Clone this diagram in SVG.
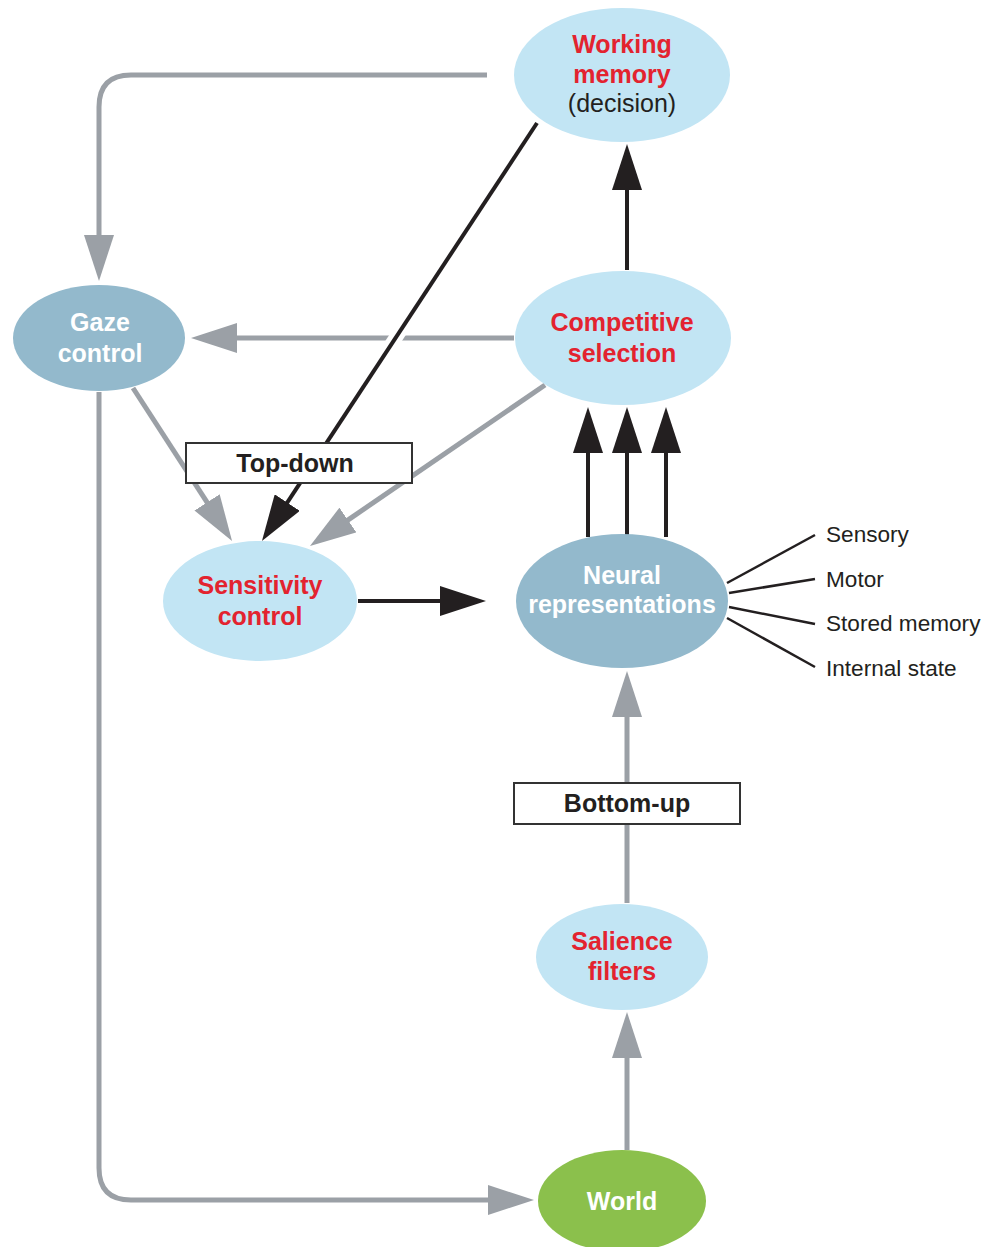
<svg xmlns="http://www.w3.org/2000/svg" width="986" height="1247" viewBox="0 0 986 1247">
<style>
.light{fill:#c2e5f4}
.dark{fill:#93b9cc}
.green{fill:#8bc04c}
.t{font-family:"Liberation Sans",Arial,sans-serif;font-size:25px;font-weight:bold;text-anchor:middle}
.red{fill:#e3232f}
.white{fill:#ffffff}
.ink{fill:#231f20}
.reg{font-weight:normal}
.side{font-family:"Liberation Sans",Arial,sans-serif;font-size:22.6px;fill:#231f20}
.g{fill:none;stroke:#9ba0a6;stroke-width:5}
.b{fill:none;stroke:#231f20;stroke-width:4}
.thin{fill:none;stroke:#231f20;stroke-width:2.5}
.box{fill:#ffffff;stroke:#333333;stroke-width:2}
</style>
<defs>
<marker id="ag" markerUnits="userSpaceOnUse" markerWidth="46" markerHeight="30" refX="1" refY="15" orient="auto" viewBox="0 0 46 30">
<path d="M0,0 L46,15 L0,30 z" fill="#9ba0a6"/>
</marker>
<marker id="ab" markerUnits="userSpaceOnUse" markerWidth="46" markerHeight="30" refX="1" refY="15" orient="auto" viewBox="0 0 46 30">
<path d="M0,0 L46,15 L0,30 z" fill="#231f20"/>
</marker>
</defs>
<rect width="986" height="1247" fill="#ffffff"/>
<g id="connectors">
<path class="g" d="M487,75 H131 Q99,75 99,107 V236" marker-end="url(#ag)"/>
<path class="g" d="M514,338 H236" marker-end="url(#ag)"/>
<path class="g" d="M99,392 V1168 Q99,1200 131,1200 H489" marker-end="url(#ag)"/>
<path class="g" d="M133,388 L207.6,503.2" marker-end="url(#ag)"/>
<path class="g" d="M545,385 L347.1,520.6" marker-end="url(#ag)"/>
<path class="g" d="M627,903 V716" marker-end="url(#ag)"/>
<path class="g" d="M627,1150 V1057" marker-end="url(#ag)"/>
<path d="M408.7,318 L382.4,358" fill="none" stroke="#ffffff" stroke-width="14"/>
<path class="b" d="M537,123 L286.7,503.4" marker-end="url(#ab)"/>
<path class="b" d="M627,270 V189" marker-end="url(#ab)"/>
<path class="b" d="M588,537 V452" marker-end="url(#ab)"/>
<path class="b" d="M627,537 V452" marker-end="url(#ab)"/>
<path class="b" d="M666,537 V452" marker-end="url(#ab)"/>
<path class="b" d="M358,601 H441" stroke-width="6" marker-end="url(#ab)"/>
<path class="thin" d="M727,583 L815,535"/>
<path class="thin" d="M729,593 L815,579"/>
<path class="thin" d="M729,607 L815,624"/>
<path class="thin" d="M727,618 L815,667"/>
</g>
<g id="label-topdown">
<rect class="box" x="186" y="443" width="226" height="40"/>
<text class="t ink" x="295" y="472">Top-down</text>
</g>
<g id="label-bottomup">
<rect class="box" x="514" y="783" width="226" height="41"/>
<text class="t ink" x="627" y="812">Bottom-up</text>
</g>
<g id="working-memory">
<ellipse class="light" cx="622" cy="75" rx="108" ry="67"/>
<text class="t red" x="622" y="53">Working</text>
<text class="t red" x="622" y="83">memory</text>
<text class="t ink reg" x="622" y="112">(decision)</text>
</g>
<g id="competitive-selection">
<ellipse class="light" cx="623" cy="338" rx="108" ry="67"/>
<text class="t red" x="622" y="331">Competitive</text>
<text class="t red" x="622" y="362">selection</text>
</g>
<g id="gaze-control">
<ellipse class="dark" cx="99" cy="338" rx="86" ry="53"/>
<text class="t white" x="100" y="331">Gaze</text>
<text class="t white" x="100" y="362">control</text>
</g>
<g id="sensitivity-control">
<ellipse class="light" cx="260" cy="601" rx="97" ry="60"/>
<text class="t red" x="260" y="594">Sensitivity</text>
<text class="t red" x="260" y="625">control</text>
</g>
<g id="neural-representations">
<ellipse class="dark" cx="622" cy="601" rx="106" ry="67"/>
<text class="t white" x="622" y="584">Neural</text>
<text class="t white" x="622" y="613">representations</text>
</g>
<g id="side-labels">
<text class="side" x="826" y="542">Sensory</text>
<text class="side" x="826" y="587">Motor</text>
<text class="side" x="826" y="631">Stored memory</text>
<text class="side" x="826" y="676">Internal state</text>
</g>
<g id="salience-filters">
<ellipse class="light" cx="622" cy="957" rx="86" ry="53"/>
<text class="t red" x="622" y="950">Salience</text>
<text class="t red" x="622" y="980">filters</text>
</g>
<g id="world">
<ellipse class="green" cx="622" cy="1201" rx="84" ry="51"/>
<text class="t white" x="622" y="1210">World</text>
</g>
</svg>
